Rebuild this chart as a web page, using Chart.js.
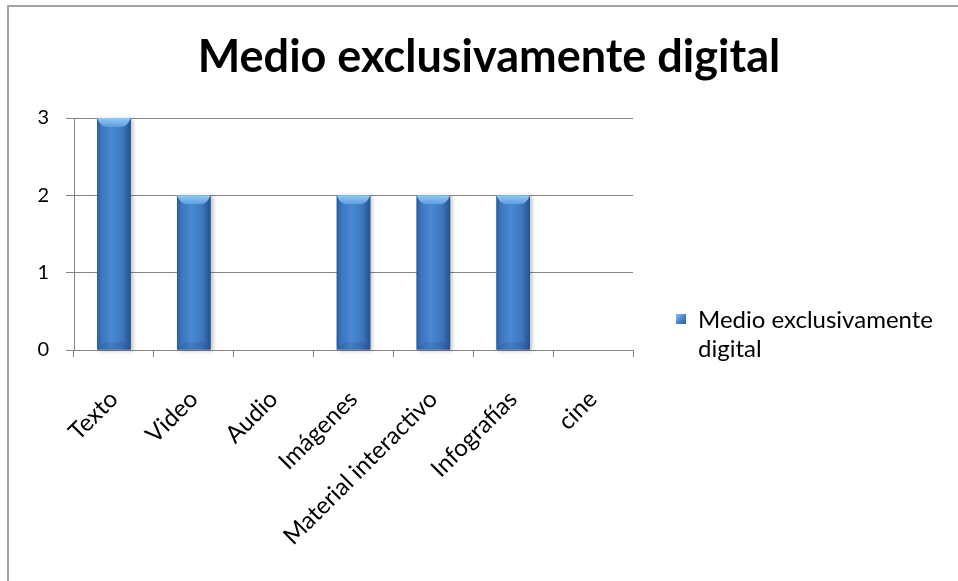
<!DOCTYPE html>
<html>
<head>
<meta charset="utf-8">
<script src="https://cdn.jsdelivr.net/npm/chart.js@4.4.0/dist/chart.umd.min.js"></script>
<style>
  html, body { margin: 0; padding: 0; background: #ffffff; }
  #wrap { width: 958px; height: 581px; position: relative; }
</style>
</head>
<body>
<div id="wrap"><canvas id="chart" width="958" height="581"></canvas></div>
<script>
// Chart data
const categories = ['Texto', 'Video', 'Audio', 'Imágenes', 'Material interactivo', 'Infografías', 'cine'];
const seriesName = 'Medio exclusivamente digital';
const seriesValues = [3, 2, 0, 2, 2, 2, 0];
const yTicks = [0, 1, 2, 3];

const FONT = "Lato, 'Open Sans', sans-serif";
const AXIS_GRAY = '#868686';

// Outer frame of the chart object
const framePlugin = {
  id: 'frame',
  beforeDraw(chart) {
    const ctx = chart.ctx;
    ctx.save();
    ctx.fillStyle = '#ffffff';
    ctx.fillRect(0, 0, chart.width, chart.height);
    ctx.strokeStyle = '#a3a3a3';
    ctx.lineWidth = 2;
    ctx.beginPath();
    ctx.moveTo(8, chart.height);
    ctx.lineTo(8, 6);
    ctx.lineTo(chart.width, 6);
    ctx.stroke();
    ctx.restore();
  }
};

// Shaded, bevelled look for the column elements
const bevelPlugin = {
  id: 'bevel',
  afterDatasetsDraw(chart) {
    const ctx = chart.ctx;
    const meta = chart.getDatasetMeta(0);
    meta.data.forEach(bar => {
      const { x, y, base, width } = bar.getProps(['x', 'y', 'base', 'width'], true);
      const h = base - y;
      if (h <= 0.5) return;
      const l = x - width / 2, r = x + width / 2;
      ctx.save();
      ctx.shadowColor = 'rgba(0,0,0,0.25)';
      ctx.shadowBlur = 4;
      ctx.shadowOffsetX = 2;
      ctx.shadowOffsetY = 1;
      const g = ctx.createLinearGradient(l, 0, r, 0);
      g.addColorStop(0, '#2b5c9c');
      g.addColorStop(0.12, '#3a75bd');
      g.addColorStop(0.42, '#4a88d3');
      g.addColorStop(0.75, '#3c78c2');
      g.addColorStop(1, '#27508a');
      ctx.fillStyle = g;
      ctx.fillRect(l, y, width, h);
      ctx.restore();

      ctx.save();
      // top face
      const cap = Math.min(9, h / 2);
      const tg = ctx.createLinearGradient(0, y, 0, y + cap);
      tg.addColorStop(0, '#92cbf8');
      tg.addColorStop(1, '#5b9be0');
      ctx.fillStyle = tg;
      ctx.beginPath();
      ctx.moveTo(l, y);
      ctx.lineTo(r, y);
      ctx.quadraticCurveTo(r - width * 0.1, y + cap, r - width * 0.3, y + cap);
      ctx.lineTo(l + width * 0.3, y + cap);
      ctx.quadraticCurveTo(l + width * 0.1, y + cap, l, y);
      ctx.closePath();
      ctx.fill();
      // bottom face
      const bot = Math.min(7, h / 3);
      ctx.fillStyle = 'rgba(25,55,100,0.16)';
      ctx.beginPath();
      ctx.moveTo(l, base);
      ctx.lineTo(r, base);
      ctx.lineTo(r - width * 0.2, base - bot);
      ctx.lineTo(l + width * 0.2, base - bot);
      ctx.closePath();
      ctx.fill();
      ctx.restore();
    });
  }
};

// Legend to the right of the plot, wrapped over two lines
const sideLegendPlugin = {
  id: 'sideLegend',
  afterDraw(chart) {
    const ctx = chart.ctx;
    const area = chart.chartArea;
    const label = chart.data.datasets[0].label;
    const mx = area.right + 43, my = area.bottom - 36, ms = 10;
    ctx.save();
    const mg = ctx.createLinearGradient(mx, my, mx + ms, my + ms);
    mg.addColorStop(0, '#8cc4f4');
    mg.addColorStop(0.5, '#4a86d0');
    mg.addColorStop(1, '#2a5a98');
    ctx.fillStyle = mg;
    ctx.fillRect(mx, my, ms, ms);
    ctx.font = '24px ' + FONT;
    ctx.fillStyle = '#000000';
    ctx.textBaseline = 'alphabetic';
    ctx.textAlign = 'left';
    const words = label.split(' ');
    const lines = [words.slice(0, 2).join(' '), words.slice(2).join(' ')];
    lines.forEach((t, i) => ctx.fillText(t, area.right + 65, area.bottom - 22 + i * 29));
    ctx.restore();
  }
};

new Chart(document.getElementById('chart'), {
  type: 'bar',
  data: {
    labels: categories,
    datasets: [{
      label: seriesName,
      data: seriesValues,
      backgroundColor: '#3f7cc6',
      borderWidth: 0,
      barPercentage: 0.42,
      categoryPercentage: 1.0
    }]
  },
  options: {
    responsive: false,
    animation: false,
    devicePixelRatio: 1,
    layout: { padding: { left: 20, right: 0, top: 0, bottom: 0 } },
    plugins: {
      legend: { display: false },
      tooltip: { enabled: false },
      title: {
        display: true,
        text: seriesName,
        color: '#000000',
        font: { family: FONT, size: 45, weight: 'bold', lineHeight: 1.2 },
        padding: { top: 30, bottom: 34 }
      }
    },
    scales: {
      x: {
        offset: true,
        border: { display: true, color: AXIS_GRAY, width: 1 },
        grid: { offset: true, drawOnChartArea: false, drawTicks: true, tickLength: 7, color: AXIS_GRAY },
        ticks: {
          color: '#000000',
          font: { family: FONT, size: 24 },
          minRotation: 45,
          maxRotation: 45,
          autoSkip: false,
          padding: 28
        },
        afterFit(scale) { scale.height = 231; }
      },
      y: {
        min: 0,
        max: 3,
        border: { display: true, color: AXIS_GRAY, width: 1 },
        grid: { color: AXIS_GRAY, tickLength: 8, drawTicks: true },
        ticks: {
          color: '#000000',
          font: { family: FONT, size: 20 },
          padding: 17,
          stepSize: 1,
          callback: (v) => yTicks.includes(v) ? String(v) : ''
        },
        afterFit(scale) { scale.width = 54; }
      },
      side: {
        position: 'right',
        display: true,
        border: { display: false },
        grid: { display: false, drawTicks: false },
        ticks: { display: false },
        afterFit(scale) { scale.width = 325; }
      }
    }
  },
  plugins: [framePlugin, bevelPlugin, sideLegendPlugin]
});
</script>
</body>
</html>
